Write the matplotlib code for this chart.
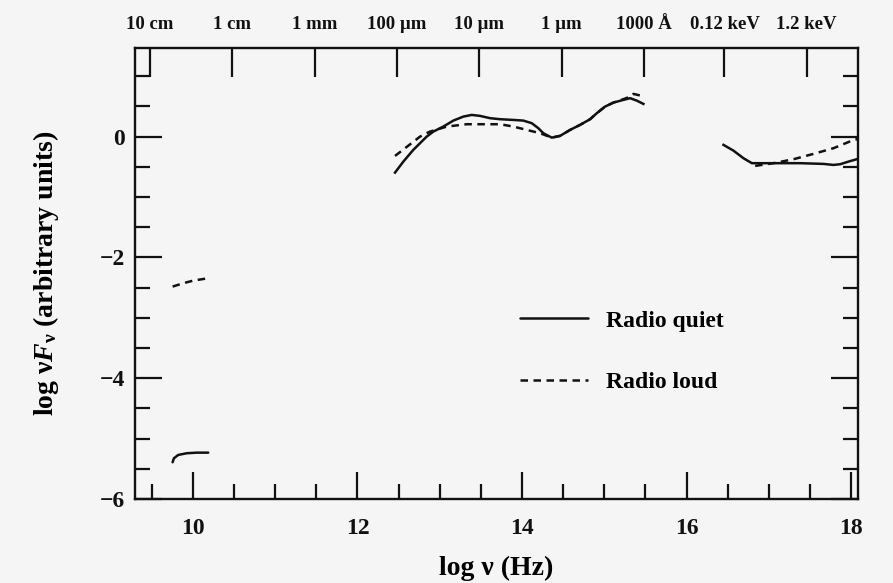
import matplotlib
matplotlib.use("Agg")
import matplotlib.pyplot as plt
from matplotlib.ticker import MultipleLocator, FixedLocator

# ---------------- data ----------------
# Radio-quiet (solid) segments
rq_radio_x = [9.753, 9.769, 9.821, 9.923, 10.045, 10.186]
rq_radio_y = [-5.391, -5.325, -5.270, -5.242, -5.232, -5.232]

rq_oir_x = [12.456, 12.557, 12.678, 12.841, 12.922, 13.043, 13.165, 13.286, 13.388,
            13.489, 13.611, 13.733, 13.894, 14.016, 14.118, 14.198, 14.259, 14.361,
            14.462, 14.584, 14.705, 14.827, 14.908, 15.009, 15.110, 15.232, 15.313,
            15.394, 15.475]
rq_oir_y = [-0.596, -0.414, -0.220, 0.000, 0.083, 0.166, 0.265, 0.331, 0.359,
            0.343, 0.305, 0.288, 0.276, 0.265, 0.222, 0.139, 0.056, -0.017,
            0.012, 0.111, 0.194, 0.288, 0.387, 0.497, 0.563, 0.608, 0.636,
            0.596, 0.541]

rq_xray_x = [16.448, 16.569, 16.691, 16.793, 16.975, 17.380, 17.663, 17.785, 17.866, 17.967, 18.069]
rq_xray_y = [-0.137, -0.232, -0.358, -0.440, -0.440, -0.440, -0.452, -0.469, -0.457, -0.414, -0.374]

# Radio-loud (dashed) segments
rl_radio_x = [9.753, 9.882, 10.004, 10.186]
rl_radio_y = [-2.483, -2.427, -2.384, -2.344]

rl_oir_x = [12.456, 12.578, 12.760, 12.881, 13.085, 13.328, 13.733, 13.894, 14.057,
            14.219, 14.361, 14.462, 14.584, 14.705, 14.827, 14.908, 15.009, 15.110,
            15.232, 15.313, 15.355, 15.455]
rl_oir_y = [-0.320, -0.192, 0.000, 0.083, 0.166, 0.205, 0.205, 0.166, 0.111,
            0.056, -0.017, 0.012, 0.111, 0.194, 0.288, 0.387, 0.497, 0.563,
            0.620, 0.662, 0.707, 0.674]

rl_xray_x = [16.833, 17.056, 17.300, 17.542, 17.785, 18.030, 18.080]
rl_xray_y = [-0.485, -0.440, -0.374, -0.286, -0.192, -0.055, -0.040]

# axis tick labels
x_major = [10, 12, 14, 16, 18]
y_major = [-6, -4, -2, 0]
top_tick_pos = [9.48, 10.48, 11.48, 12.48, 13.48, 14.48, 15.48, 16.46, 17.46]
top_tick_labels = ["10 cm", "1 cm", "1 mm", "100 \u00b5m", "10 \u00b5m", "1 \u00b5m",
                   "1000 \u00c5", "0.12 keV", "1.2 keV"]

# ---------------- style ----------------
plt.rcParams["font.family"] = ["Liberation Serif", "DejaVu Serif"]
plt.rcParams["font.weight"] = "bold"
plt.rcParams["mathtext.fontset"] = "custom"
plt.rcParams["mathtext.rm"] = "Liberation Serif:bold"
plt.rcParams["mathtext.it"] = "Liberation Serif:bold:italic"
plt.rcParams["mathtext.bf"] = "Liberation Serif:bold"
plt.rcParams["mathtext.default"] = "rm"

ink = "#111111"
bg = "#f5f5f5"

fig = plt.figure(figsize=(8.93, 5.83), dpi=100, facecolor=bg)
ax = fig.add_axes([0.151, 0.144, 0.810, 0.774], facecolor=bg)

lw = 1.8
dash = (0, (3.0, 2.2))
l_q, = ax.plot(rq_radio_x, rq_radio_y, color=ink, lw=lw, solid_capstyle="round",
               solid_joinstyle="round", label="Radio quiet")
ax.plot(rq_oir_x, rq_oir_y, color=ink, lw=lw, solid_joinstyle="round")
ax.plot(rq_xray_x, rq_xray_y, color=ink, lw=lw, solid_joinstyle="round")
l_l, = ax.plot(rl_radio_x, rl_radio_y, color=ink, lw=lw, linestyle=dash, label="Radio loud")
ax.plot(rl_oir_x, rl_oir_y, color=ink, lw=lw, linestyle=dash)
ax.plot(rl_xray_x, rl_xray_y, color=ink, lw=lw, linestyle=dash)

ax.set_xlim(9.294, 18.085)
ax.set_ylim(-6, 1.47)

ax.xaxis.set_major_locator(FixedLocator(x_major))
ax.set_xticklabels([str(v) for v in x_major])
ax.xaxis.set_minor_locator(MultipleLocator(0.5))
ax.yaxis.set_major_locator(FixedLocator(y_major))
ax.set_yticklabels(["\u2212" + str(-v) if v < 0 else str(v) for v in y_major])
ax.yaxis.set_minor_locator(MultipleLocator(0.5))

ax.tick_params(axis="both", which="both", direction="in", width=1.6, colors=ink,
               labelsize=17, top=False, right=True)
ax.tick_params(axis="both", which="major", length=19.5)
ax.tick_params(axis="both", which="minor", length=10.5)
ax.tick_params(axis="x", which="major", pad=14)
ax.tick_params(axis="y", which="major", pad=7)
for s in ax.spines.values():
    s.set_linewidth(1.7)
    s.set_color(ink)

ax.set_xlabel("log \u03bd (Hz)", fontsize=20, fontweight="bold", labelpad=12)
ax.set_ylabel(r"log $\nu\mathit{F}_{\nu}$ (arbitrary units)", fontsize=20,
              fontweight="bold", labelpad=28)

# top wavelength/energy axis
ax2 = ax.twiny()
ax2.set_xlim(ax.get_xlim())
ax2.xaxis.set_major_locator(FixedLocator(top_tick_pos))
ax2.set_xticklabels(top_tick_labels)
ax2.xaxis.set_minor_locator(FixedLocator([]))
ax2.tick_params(axis="x", which="major", direction="in", length=21, width=1.6,
                colors=ink, labelsize=13.5, pad=11)
for s in ax2.spines.values():
    s.set_visible(False)

leg = ax.legend(handles=[l_q, l_l], loc="center left", bbox_to_anchor=(0.532, 0.327),
                frameon=False, fontsize=17, handlelength=2.9, handletextpad=0.75,
                labelspacing=1.68, borderpad=0, borderaxespad=0)
for t in leg.get_texts():
    t.set_fontweight("bold")

fig.savefig("out.png", dpi=100, facecolor=bg)
